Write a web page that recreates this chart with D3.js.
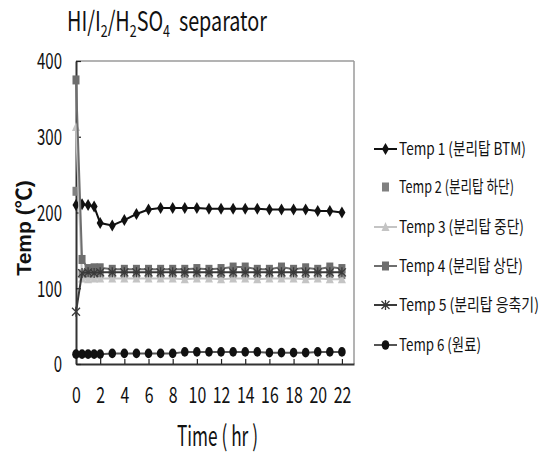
<!DOCTYPE html>
<html>
<head>
<meta charset="utf-8">
<script src="https://cdn.jsdelivr.net/npm/d3@7"></script>
<style>
  body { margin: 0; background: #fff; }
  svg { display: block; }
</style>
</head>
<body>
<script>
// data
let times = [0, 0.5, 1, 1.5, 2, 3, 4, 5, 6, 7, 8, 9, 10, 11, 12, 13, 14, 15, 16, 17, 18, 19, 20, 21, 22];
let temp1 = [210, 211, 210, 208, 186, 183, 190, 198, 204, 206, 206, 206, 206, 205, 205, 205, 205, 205, 204, 204, 204, 204, 202, 202, 200];
let temp2 = [228, 119, 118, 119, 118, 118, 118, 118, 118, 118, 118, 118, 118, 118, 118, 118, 118, 118, 118, 118, 118, 119, 118, 119, 118];
let temp3 = [313, 113, 112, 113, 113, 113, 113, 113, 113, 113, 113, 112, 113, 113, 112, 113, 113, 112, 113, 113, 113, 112, 113, 112, 112];
let temp4 = [375, 138, 126, 127, 127, 125, 125, 125, 125, 125, 125, 125, 126, 125, 126, 128, 128, 125, 125, 128, 125, 127, 125, 128, 126];
let temp5 = [69, 120, 121, 120, 121, 121, 121, 121, 121, 121, 121, 121, 121, 121, 121, 121, 121, 121, 121, 121, 121, 121, 121, 121, 121];
let temp6 = [13, 13, 13, 13, 13, 14, 14, 14, 14, 14, 14, 16, 16, 16, 16, 16, 16, 16, 15, 15, 15, 15, 16, 16, 16];
let seriesNames = ["Temp 1 (분리탑 BTM)", "Temp 2 (분리탑 하단)", "Temp 3 (분리탑 중단)", "Temp 4 (분리탑 상단)", "Temp 5 (분리탑 응축기)", "Temp 6 (원료)"];
let xTicks = [0, 2, 4, 6, 8, 10, 12, 14, 16, 18, 20, 22];
let yTicks = [0, 100, 200, 300, 400];

let width = 549, height = 455;
let plotLeft = 76, plotTop = 61, plotRight = 354, plotBottom = 364;
let narrow = "'Liberation Sans Narrow', 'Noto Sans CJK KR', sans-serif";

let svg = d3.select("body").append("svg")
    .attr("width", width)
    .attr("height", height);

let xScale = d3.scaleLinear().domain([0, 23]).range([plotLeft, plotRight]);
let yScale = d3.scaleLinear().domain([0, 400]).range([plotBottom, plotTop]);

// squeeze a text horizontally so it fills a given width
function squeeze(sel, targetW) {
    sel.each(function () {
        let w = this.getComputedTextLength();
        let s = targetW / w;
        let x = +this.getAttribute("x") || 0;
        this.setAttribute("transform", "translate(" + (x - x * s) + ",0) scale(" + s + ",1)");
    });
}

/* frame */
svg.append("line").attr("x1", plotLeft).attr("x2", plotRight).attr("y1", plotTop).attr("y2", plotTop)
    .attr("stroke", "#9a9a9a").attr("stroke-width", 1.5);
svg.append("line").attr("x1", plotRight).attr("x2", plotRight).attr("y1", plotTop).attr("y2", plotBottom)
    .attr("stroke", "#9a9a9a").attr("stroke-width", 1.5);

/* x axis */
let xAxis = d3.axisBottom(xScale).tickValues(xTicks).tickSizeInner(-5).tickSizeOuter(0);
let gx = svg.append("g")
    .attr("transform", "translate(0," + plotBottom + ")")
    .call(xAxis);
gx.select(".domain").attr("stroke", "#333").attr("stroke-width", 2);
gx.selectAll(".tick line").attr("stroke", "#222").attr("stroke-width", 1.2);
gx.selectAll(".tick text")
    .attr("font-family", narrow).attr("font-size", 22).attr("fill", "#111")
    .attr("y", 39).attr("dy", 0)
    .attr("transform", "scale(0.72,1)");

/* y axis */
let yAxis = d3.axisLeft(yScale).tickValues(yTicks).tickSizeInner(-5).tickSizeOuter(0);
let gy = svg.append("g")
    .attr("transform", "translate(" + plotLeft + ",0)")
    .call(yAxis);
gy.select(".domain").attr("stroke", "#333").attr("stroke-width", 2);
gy.selectAll(".tick line").attr("stroke", "#222").attr("stroke-width", 1.2);
gy.selectAll(".tick text")
    .attr("font-family", narrow).attr("font-size", 22).attr("fill", "#111")
    .attr("x", -14).attr("dy", "0.36em");
gy.selectAll(".tick text").each(function (d) {
    let n = String(d).length;
    squeeze(d3.select(this), 25 * n / 3);
});

/* marker shapes */
function marker(g, type, cx, cy, color) {
    if (type === "diamond") {
        g.append("path").attr("d", "M" + cx + "," + (cy - 6) + "L" + (cx + 3.5) + "," + cy + "L" + cx + "," + (cy + 6) + "L" + (cx - 3.5) + "," + cy + "Z")
            .attr("fill", color);
    } else if (type === "square") {
        g.append("rect").attr("x", cx - 3.5).attr("y", cy - 4.5).attr("width", 7).attr("height", 9).attr("fill", color);
    } else if (type === "triangle") {
        g.append("path").attr("d", "M" + cx + "," + (cy - 5) + "L" + (cx + 4) + "," + (cy + 4) + "L" + (cx - 4) + "," + (cy + 4) + "Z")
            .attr("fill", color);
    } else if (type === "star") {
        g.append("path").attr("d", "M" + (cx - 4) + "," + (cy - 4) + "L" + (cx + 4) + "," + (cy + 4) + "M" + (cx - 4) + "," + (cy + 4) + "L" + (cx + 4) + "," + (cy - 4) + "M" + cx + "," + (cy - 5) + "L" + cx + "," + (cy + 5))
            .attr("stroke", color).attr("stroke-width", 1.3).attr("fill", "none");
    } else if (type === "circle") {
        g.append("ellipse").attr("cx", cx).attr("cy", cy).attr("rx", 3.8).attr("ry", 4.8).attr("fill", color);
    }
}

let series = [
    { name: seriesNames[0], values: temp1, line: "#111", marker: "diamond", mcolor: "#111", showLine: true },
    { name: seriesNames[1], values: temp2, line: null, marker: "square", mcolor: "#808080", showLine: false },
    { name: seriesNames[2], values: temp3, line: "#c4c4c4", marker: "triangle", mcolor: "#c4c4c4", showLine: true },
    { name: seriesNames[3], values: temp4, line: "#6e6e6e", marker: "square", mcolor: "#6e6e6e", showLine: true },
    { name: seriesNames[4], values: temp5, line: "#3a3a3a", marker: "star", mcolor: "#3a3a3a", showLine: true },
    { name: seriesNames[5], values: temp6, line: "#555", marker: "circle", mcolor: "#111", showLine: true }
];

let line = d3.line().x((d, i) => xScale(times[i])).y(d => yScale(d));

series.forEach(function (s) {
    let g = svg.append("g");
    if (s.showLine) {
        g.append("path").attr("d", line(s.values))
            .attr("fill", "none").attr("stroke", s.line).attr("stroke-width", 2);
    }
    s.values.forEach(function (v, i) {
        marker(g, s.marker, xScale(times[i]), yScale(v), s.mcolor);
    });
});

/* legend */
let legendY = [149, 187, 227, 266, 305, 345];
let legendW = [127, 115, 125, 124, 140, 82];
series.forEach(function (s, i) {
    let y = legendY[i];
    let g = svg.append("g");
    if (s.showLine) {
        g.append("line").attr("x1", 374).attr("x2", 397).attr("y1", y).attr("y2", y)
            .attr("stroke", s.line).attr("stroke-width", 2);
    }
    marker(g, s.marker, 385.5, y, s.mcolor);
    let t = g.append("text").attr("x", 399).attr("y", y + 6)
        .attr("font-family", narrow).attr("font-size", 17).attr("fill", "#111")
        .text(s.name);
    squeeze(t, legendW[i]);
});

/* title */
let title = svg.append("text").attr("x", 67).attr("y", 31)
    .attr("font-family", narrow).attr("font-size", 27).attr("fill", "#111");
title.append("tspan").text("HI/I");
title.append("tspan").attr("font-size", 17).attr("dy", 6).text("2");
title.append("tspan").attr("dy", -6).text("/H");
title.append("tspan").attr("font-size", 17).attr("dy", 6).text("2");
title.append("tspan").attr("dy", -6).text("SO");
title.append("tspan").attr("font-size", 17).attr("dy", 6).text("4");
title.append("tspan").attr("dy", -6).text("\u00a0 separator");
squeeze(title, 200);

/* axis titles */
let xt = svg.append("text").attr("x", 177).attr("y", 446)
    .attr("font-family", narrow).attr("font-size", 28).attr("fill", "#111")
    .text("Time ( hr )");
squeeze(xt, 81);

svg.append("text")
    .attr("transform", "translate(31,228) rotate(-90)")
    .attr("text-anchor", "middle")
    .attr("font-family", "'Liberation Sans', 'Noto Sans CJK KR', sans-serif")
    .attr("font-size", 21).attr("font-weight", "bold").attr("fill", "#111")
    .text("Temp (℃)");
</script>
</body>
</html>
